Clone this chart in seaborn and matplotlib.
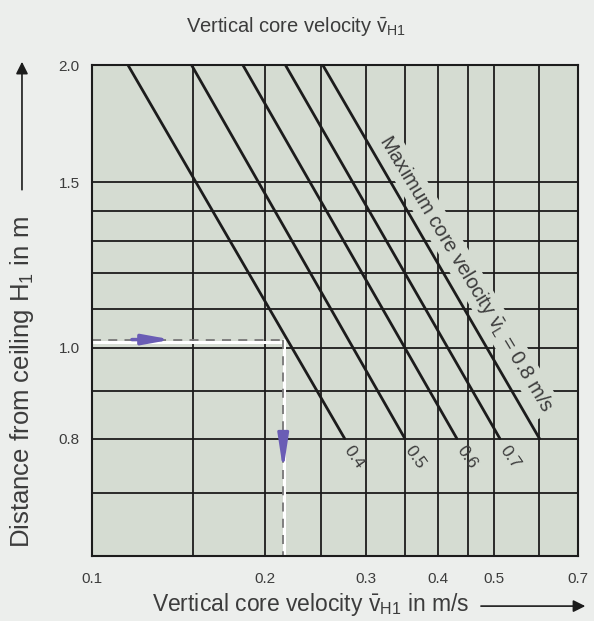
import numpy as np
import pandas as pd
import matplotlib
matplotlib.use("Agg")
import matplotlib.pyplot as plt
import seaborn as sns

# max core velocity lines, read at top (H=2.0) and bottom (H=0.8)
v_max = ["0.4", "0.5", "0.6", "0.7", "0.8"]
v_at_top = [0.1155, 0.149, 0.183, 0.217, 0.252]
v_at_bottom = [0.275, 0.350, 0.431, 0.512, 0.600]
h_top = 2.0
h_bottom = 0.8

# grid
grid_v = [0.15, 0.2, 0.25, 0.3, 0.35, 0.4, 0.45, 0.5, 0.6]
grid_h = [0.7, 0.8, 0.9, 1.0, 1.1, 1.2, 1.3, 1.4, 1.5]
xticks = [0.1, 0.2, 0.3, 0.4, 0.5, 0.7]
yticks = [0.8, 1.0, 1.5, 2.0]

# worked example (dashed)
ex_h = 1.02
ex_v = 0.215

rows = []
for name, a, b in zip(v_max, v_at_top, v_at_bottom):
    rows.append({"vL": name, "v": a, "H": h_top})
    rows.append({"vL": name, "v": b, "H": h_bottom})
df = pd.DataFrame(rows)

sns.set_style("white")
plt.rcParams["font.family"] = ["Liberation Sans", "DejaVu Sans"]
plt.rcParams["mathtext.fontset"] = "custom"
plt.rcParams["mathtext.rm"] = "Liberation Sans"
plt.rcParams["mathtext.it"] = "Liberation Sans"

bg = "#eceeec"
axbg = "#d5dcd2"
ink = "#1c1c1c"
txt = "#3c3c3c"
purple = "#6a5db5"

fig = plt.figure(figsize=(5.94, 6.21), dpi=100, facecolor=bg)
ax = fig.add_axes([0.155, 0.105, 0.818, 0.79])
ax.set_facecolor(axbg)
ax.set_xscale("log")
ax.set_yscale("log")
ax.set_xlim(0.1, 0.7)
ax.set_ylim(0.6, 2.0)

for v in grid_v:
    ax.axvline(v, color=ink, lw=1.3, zorder=1)
for h in grid_h:
    ax.axhline(h, color=ink, lw=1.3, zorder=1)

sns.lineplot(data=df, x="v", y="H", hue="vL", palette=[ink] * 5,
             legend=False, lw=2.0, ax=ax, zorder=3)

# dashed example path
ax.plot([0.1, ex_v], [ex_h * 0.993, ex_h * 0.993], color="white", lw=2.2, zorder=2)
ax.plot([ex_v * 1.004, ex_v * 1.004], [ex_h, 0.6], color="white", lw=2.2, zorder=2)
ax.plot([0.1, ex_v], [ex_h, ex_h], color="#777777", lw=1.3, ls=(0, (5, 4)), zorder=2.2)
ax.plot([ex_v, ex_v], [ex_h, 0.6], color="#777777", lw=1.3, ls=(0, (5, 4)), zorder=2.2)
ax.annotate("", xy=(0.139, ex_h), xytext=(0.116, ex_h),
            arrowprops=dict(arrowstyle="-|>,head_length=1.1,head_width=0.2", color=purple,
                            lw=2.5, mutation_scale=15), zorder=4)
ax.annotate("", xy=(ex_v, 0.735), xytext=(ex_v, 0.81),
            arrowprops=dict(arrowstyle="-|>,head_length=1.3,head_width=0.2", color=purple,
                            lw=2.2, mutation_scale=16), zorder=4)

# line labels
for name, b in zip(v_max[:-1], v_at_bottom[:-1]):
    ax.text(b * 1.04, h_bottom * 0.955, name, rotation=-55, fontsize=12.5, color=txt,
            ha="center", va="center", rotation_mode="anchor", zorder=4)
ax.text(0.448, 1.2, r"Maximum core velocity $\bar{\mathregular{v}}_\mathregular{L}$ = 0.8 m/s",
        rotation=-59, fontsize=14.5, color=txt, ha="center", va="center", zorder=2.5,
        rotation_mode="anchor",
        bbox=dict(boxstyle="square,pad=0.12", fc=axbg, ec="none"))

ax.set_xticks(xticks)
ax.set_xticklabels([str(t) for t in xticks])
ax.set_yticks(yticks)
ax.set_yticklabels(["0.8", "1.0", "1.5", "2.0"])
ax.minorticks_off()
ax.tick_params(length=0, labelsize=11, labelcolor=txt)
ax.tick_params(axis="x", pad=12)
ax.tick_params(axis="y", pad=9)
ax.set_xlabel("")
ax.set_ylabel("")
for s in ax.spines.values():
    s.set_color(ink)
    s.set_linewidth(1.5)

fig.text(0.498, 0.957, r"Vertical core velocity $\bar{\mathregular{v}}_\mathregular{H1}$",
         fontsize=14.5, color=txt, ha="center", va="center")
fig.text(0.256, 0.026, r"Vertical core velocity $\bar{\mathregular{v}}_\mathregular{H1}$ in m/s",
         fontsize=16.5, color=txt, ha="left", va="center")
fig.add_artist(matplotlib.patches.FancyArrowPatch((0.805, 0.024), (0.99, 0.024),
               transform=fig.transFigure, arrowstyle="-|>", mutation_scale=18, color=ink, lw=1.2))
fig.text(0.037, 0.118, r"Distance from ceiling $\mathregular{H_1}$ in m",
         fontsize=18.5, color=txt, ha="center", va="bottom", rotation=90)
fig.add_artist(matplotlib.patches.FancyArrowPatch((0.037, 0.69), (0.037, 0.905),
               transform=fig.transFigure, arrowstyle="-|>", mutation_scale=18, color=ink, lw=1.2))

fig.savefig("out.png", dpi=100, facecolor=bg)
